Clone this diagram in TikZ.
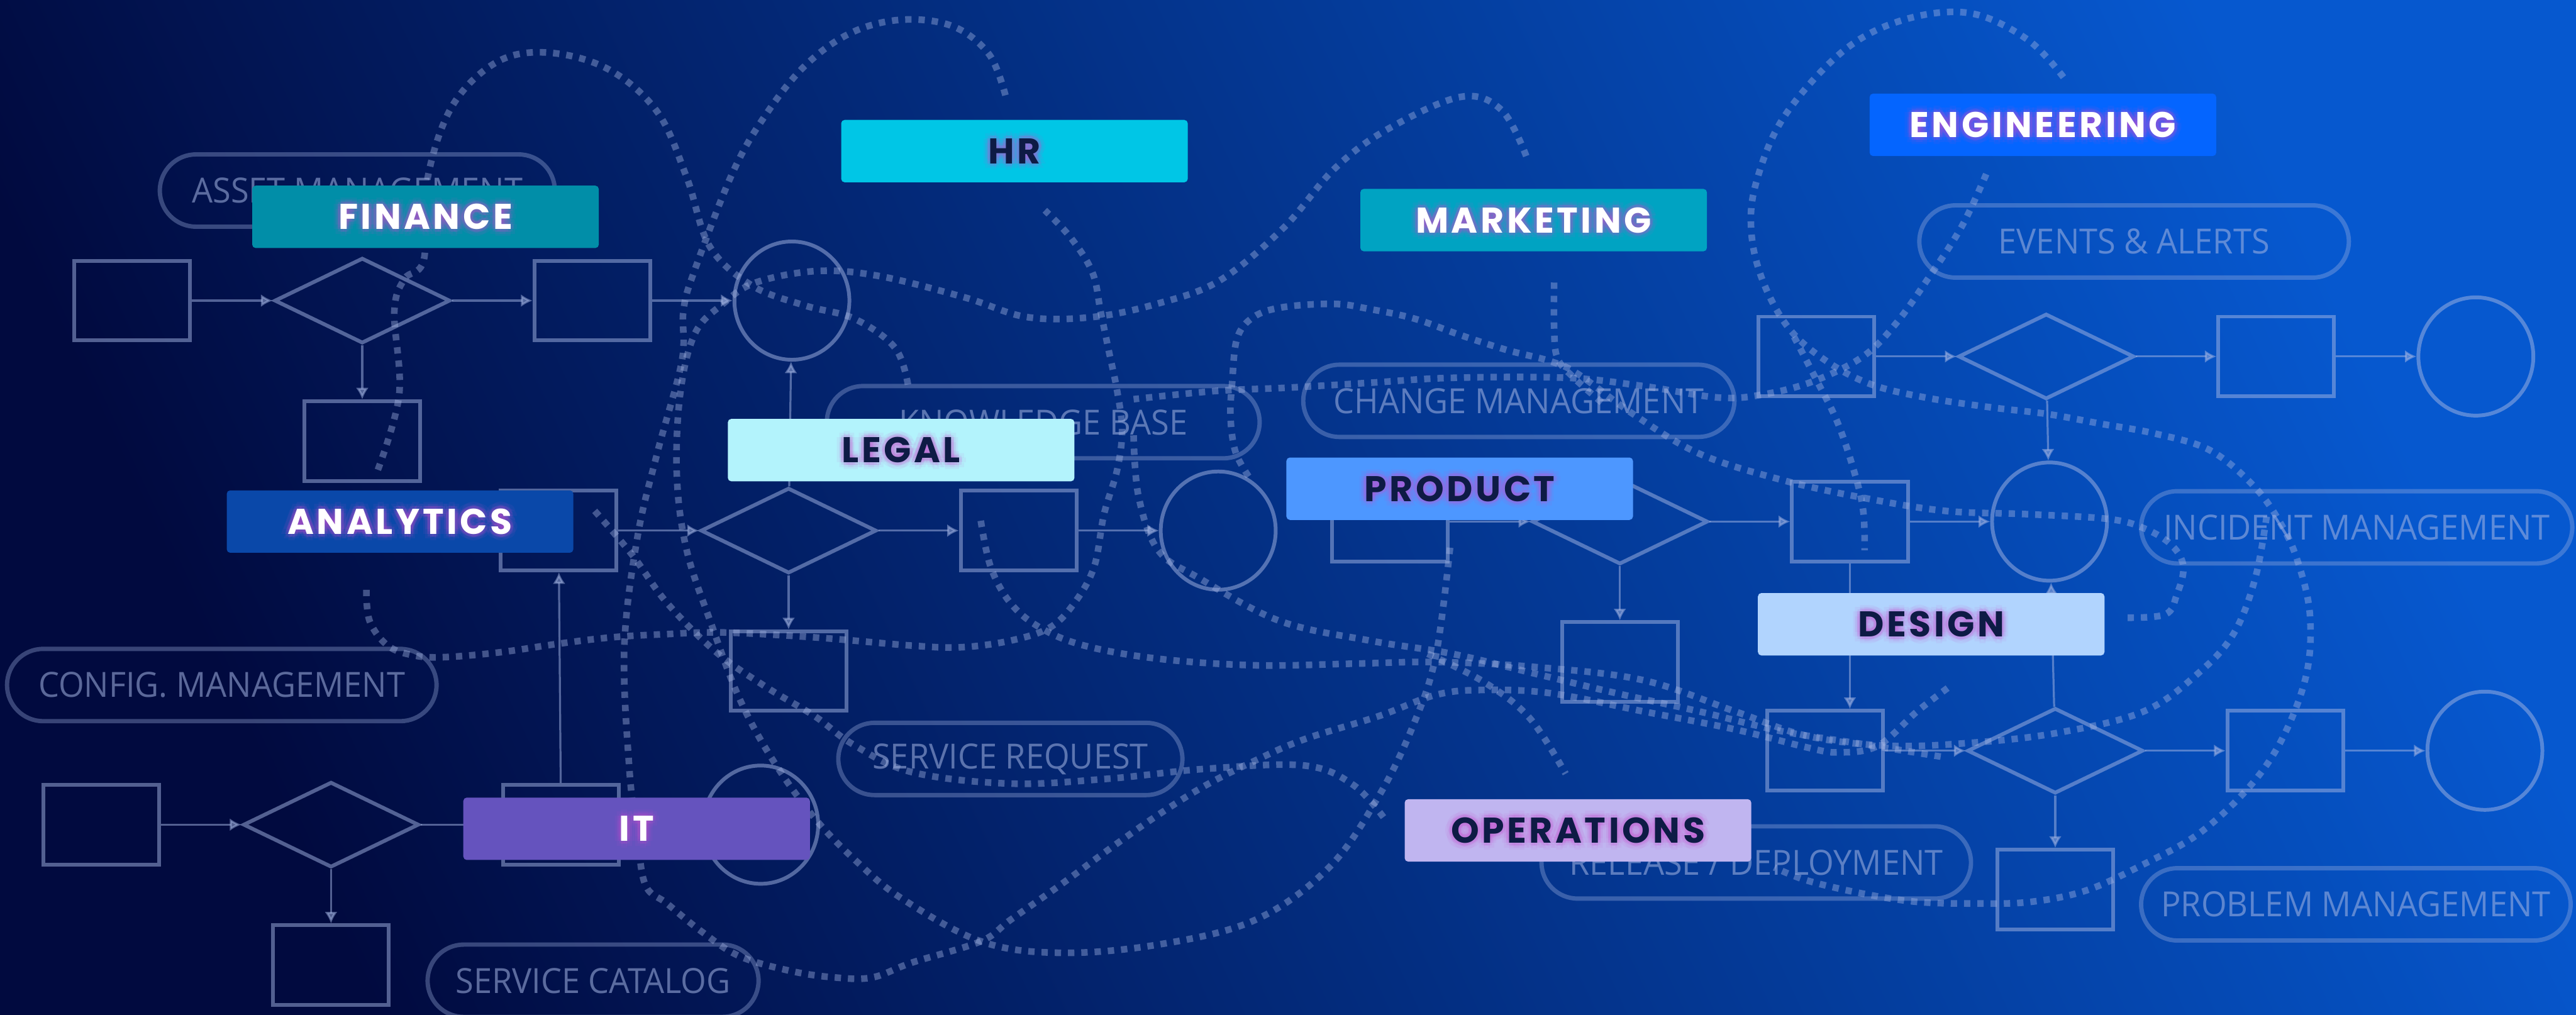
\documentclass[tikz,border=0pt]{standalone}
\usepackage{fontspec}
\usepackage{tikz}
\usetikzlibrary{arrows.meta,positioning,shapes.geometric}
\newfontfamily\deptfont[LetterSpace=8]{Poppins}
\newfontfamily\pillfont[FakeStretch=0.95]{Open Sans}
\definecolor{bgleft}{HTML}{010A3F}
\definecolor{bgright}{HTML}{0658CF}
\definecolor{linecol}{RGB}{165,182,228}
\definecolor{glowcol}{HTML}{C94FD0}
\definecolor{inkdark}{HTML}{0E1B45}
\definecolor{financefill}{HTML}{018EA8}
\definecolor{hrfill}{HTML}{00C6E6}
\definecolor{marketfill}{HTML}{00A3C2}
\definecolor{engfill}{HTML}{0465FF}
\definecolor{legalfill}{HTML}{B3F3FC}
\definecolor{analyticsfill}{HTML}{0A48A9}
\definecolor{productfill}{HTML}{4D97FF}
\definecolor{designfill}{HTML}{B1D4FE}
\definecolor{itfill}{HTML}{6553BE}
\definecolor{opsfill}{HTML}{C0B5F0}

\newcommand\deptlabel[5]{%
  \node[dept, fill=#3] (#1) at #2 {};
  \foreach \ang in {0,45,...,315}{
    \node[depttext, text=glowcol, opacity=0.12] at ([shift={(\ang:1.1pt)}]#1) {#5};
    \node[depttext, text=glowcol, opacity=0.07] at ([shift={(\ang:2.3pt)}]#1) {#5};
  }
  \node[depttext, text=#4] at (#1) {#5};
}

\begin{document}
\begin{tikzpicture}[
    x=0.02cm, y=-0.02cm,
    node distance=0.98cm,
    task/.style={rectangle, draw=linecol, draw opacity=0.5, line width=1.3pt,
    minimum width=1.41cm, minimum height=0.97cm, inner sep=0},
    gate/.style={diamond, draw=linecol, draw opacity=0.5, line width=1.3pt,
    minimum width=2.14cm, minimum height=1.04cm, inner sep=0},
    terminal/.style={ellipse, draw=linecol, draw opacity=0.5, line width=1.3pt,
    minimum width=1.40cm, minimum height=1.44cm, inner sep=0},
    flow/.style={-{Latex[length=4pt,width=4.4pt]}, draw=linecol, opacity=0.5, line width=0.7pt},
    trail/.style={draw=linecol, draw opacity=0.4, line width=2.3pt, dash pattern=on 2.2pt off 2.4pt},
    pill/.style={rectangle, rounded corners=0.44cm, draw=linecol, draw opacity=0.34, line width=1.5pt,
    minimum height=0.88cm, inner sep=0, text=linecol, text opacity=0.55,
    font=\pillfont\fontsize{12}{14}\selectfont},
    dept/.style={rectangle, rounded corners=1.2pt, minimum width=4.22cm, minimum height=0.76cm, inner sep=0},
    depttext/.style={inner sep=0, font=\deptfont\bfseries\fontsize{12.4}{14}\selectfont}
]
\useasboundingbox (0,0) rectangle (1568,617.6);
\clip (0,0) rectangle (1568,617.6);
\shade[left color=bgleft, right color=bgright, shading angle=115] (0,0) rectangle (1568,617.6);

\draw[trail] plot[smooth, tension=0.6] coordinates {(230,286) (243,240) (240,190) (246,170) (258,158) (260,110) (275,65) (302,38) (333,32) (370,42) (400,68) (418,108) (432,150) (458,174) (490,186) (520,194) (545,212) (553,236)};
\draw[trail] plot[smooth, tension=0.6] coordinates {(612,58) (602,33) (580,16) (549,12) (518,20) (490,40) (466,70) (446,105) (423,164) (416,189) (415,220) (400,276) (388,327) (380,394) (383,467) (388,510) (393,539) (406,550) (427,567) (450,582) (481,591) (508,595) (531,595) (555,586) (597,573) (615,560) (645,539) (675,517) (705,496) (734,478) (764,463) (794,450) (839,436) (874,423) (903,420) (944,422) (1000,433) (1056,444) (1100,455) (1119,458) (1143,454) (1167,433) (1188,417)};
\draw[trail] plot[smooth, tension=0.6] coordinates {(929,95) (914,67) (889,59) (844,79) (812,103) (781,139) (742,171) (704,185) (665,193) (625,193) (587,181) (535,168) (497,165) (460,172) (440,185) (423,203) (414,240) (412,290) (418,335) (433,380) (450,425) (470,462) (495,497) (521,524) (549,547) (597,573) (645,580) (705,575) (764,560) (809,528) (839,485) (860,442) (874,399) (883,330)};
\draw[trail] plot[smooth, tension=0.6] coordinates {(223,359) (225,378) (236,393) (252,399) (271,400) (305,397) (339,392) (372,388) (406,386) (440,385) (496,388) (555,393) (585,394) (615,390) (639,382) (654,367) (666,345) (672,313) (680,286) (683,262) (680,238) (675,214) (670,190) (665,166) (652,145) (636,128)};
\draw[trail] plot[smooth, tension=0.6] coordinates {(362,311) (385,338) (406,367) (436,397) (466,418) (496,436) (519,453) (555,470) (615,477) (675,474) (734,468) (794,466) (824,478) (844,500)};
\draw[trail] plot[smooth, tension=0.6] coordinates {(597,317) (603,345) (615,367) (633,382) (660,393) (705,401) (764,405) (824,404) (874,403) (934,406) (1000,414) (1056,433) (1100,448) (1150,454) (1202,452) (1253,446) (1305,433) (1339,409) (1360,385) (1373,351) (1380,312)};
\draw[trail] plot[smooth, tension=0.6] coordinates {(690,265) (693,302) (705,335) (730,352) (779,378) (834,390) (884,398) (934,410) (984,422) (1034,433) (1084,445) (1134,453) (1184,461)};
\draw[trail] plot[smooth, tension=0.6] coordinates {(1256,47) (1234,24) (1199,8) (1159,12) (1122,31) (1086,71) (1069,111) (1066,141) (1073,171) (1089,200) (1112,220) (1139,234) (1172,242) (1212,248) (1246,252) (1279,258) (1312,264) (1345,274) (1372,296) (1389,320) (1399,343) (1406,374) (1404,410) (1390,448) (1370,478) (1339,507) (1305,526) (1270,542) (1236,549) (1202,550) (1167,549) (1134,544) (1100,536) (1080,528)};
\draw[trail] plot[smooth, tension=0.6] coordinates {(1209,106) (1194,138) (1174,169) (1154,197) (1134,217) (1104,232) (1074,240) (1046,242) (1000,235) (954,230) (884,230) (834,233) (784,236) (740,238) (690,243)};
\draw[trail] plot[smooth, tension=0.6] coordinates {(760,290) (752,275) (749,254) (750,233) (753,206) (763,193) (781,187) (812,185) (833,188) (861,194) (889,204) (917,213) (944,220) (961,228) (994,252) (1034,276) (1084,292) (1134,303) (1184,311) (1234,313) (1284,316) (1306,322) (1322,332) (1329,345) (1325,362) (1318,374) (1294,376)};
\draw[trail] plot[smooth, tension=0.6] coordinates {(946,172) (946,200) (948,218) (958,230) (975,245)};
\draw[trail] plot[smooth, tension=0.6] coordinates {(1092,205) (1105,230) (1118,256) (1128,285) (1134,310) (1135,335)};
\draw[trail] plot[smooth, tension=0.6] coordinates {(869,398) (903,415) (931,437) (953,471)};

\node[pill, minimum width=4.81cm] (asset) at (217.5,116) {ASSET MANAGEMENT};
\node[pill, minimum width=5.27cm] (knowbase) at (635,257) {KNOWLEDGE BASE};
\node[pill, minimum width=5.25cm] (change) at (924.5,244) {CHANGE MANAGEMENT};
\node[pill, minimum width=5.23cm] (events) at (1299,147) {EVENTS \& ALERTS};
\node[pill, minimum width=5.25cm] (incident) at (1434.5,321) {INCIDENT MANAGEMENT};
\node[pill, minimum width=5.23cm] (config) at (135,417) {CONFIG. MANAGEMENT};
\node[pill, minimum width=4.19cm] (request) at (615,462) {SERVICE REQUEST};
\node[pill, minimum width=4.03cm] (catalog) at (361,597) {SERVICE CATALOG};
\node[pill, minimum width=5.23cm] (release) at (1069,525) {RELEASE / DEPLOYMENT};
\node[pill, minimum width=5.23cm] (problem) at (1434,550.5) {PROBLEM MANAGEMENT};

\node[task] (a1) at (80.5,183) {};
\node[gate, right=of a1] (ad) {};
\node[task, right=of ad] (a2) {};
\node[terminal, right=of a2] (ac) {};
\node[task, below=0.66cm of ad] (a3) {};
\draw[flow] (a1) -- (ad);
\draw[flow] (ad) -- (a2);
\draw[flow] (a2) -- (ac);
\draw[flow] (ad) -- (a3);

\node[task] (b1) at (340,323) {};
\node[gate, right=of b1] (bd) {};
\node[task, right=of bd] (b2) {};
\node[terminal, right=of b2] (bc) {};
\node[task, below=0.66cm of bd] (b3) {};
\draw[flow] (b1) -- (bd);
\draw[flow] (bd) -- (b2);
\draw[flow] (b2) -- (bc);
\draw[flow] (bd) -- (b3);
\draw[flow] (bd) -- (ac);

\node[task] (c1) at (61.5,502) {};
\node[gate, right=of c1] (cd) {};
\node[task, right=of cd] (c2) {};
\node[terminal, right=of c2] (cc) {};
\node[task, below=0.66cm of cd] (c3) {};
\draw[flow] (c1) -- (cd);
\draw[flow] (cd) -- (c2);
\draw[flow] (c2) -- (cc);
\draw[flow] (cd) -- (c3);
\draw[flow] (c2) -- (b1);

\node[task] (e1) at (1105.5,217) {};
\node[gate, right=of e1] (ed) {};
\node[task, right=of ed] (e2) {};
\node[terminal, right=of e2] (ec) {};
\draw[flow] (e1) -- (ed);
\draw[flow] (ed) -- (e2);
\draw[flow] (e2) -- (ec);

\node[task] (d1) at (846,317.5) {};
\node[gate, right=of d1] (dd) {};
\node[task, right=of dd] (d2) {};
\node[terminal, right=of d2] (dc) {};
\node[task, below=0.66cm of dd] (d3) {};
\draw[flow] (d1) -- (dd);
\draw[flow] (dd) -- (d2);
\draw[flow] (d2) -- (dc);
\draw[flow] (dd) -- (d3);
\draw[flow] (ed) -- (dc);

\node[task] (f1) at (1111,457) {};
\node[gate, right=of f1] (fd) {};
\node[task, right=of fd] (f2) {};
\node[terminal, right=of f2] (fc) {};
\node[task, below=0.64cm of fd] (f3) {};
\draw[flow] (f1) -- (fd);
\draw[flow] (fd) -- (f2);
\draw[flow] (f2) -- (fc);
\draw[flow] (fd) -- (f3);
\draw[flow] (fd) -- (dc);
\draw[flow] (d2.south) -- (d2.south |- f1.north);

\deptlabel{finance}{(259,132)}{financefill}{white}{FINANCE}
\deptlabel{hr}{(617.5,92)}{hrfill}{inkdark}{HR}
\deptlabel{marketing}{(933.5,134)}{marketfill}{white}{MARKETING}
\deptlabel{engineering}{(1243.5,76)}{engfill}{white}{ENGINEERING}
\deptlabel{legal}{(548.5,274)}{legalfill}{inkdark}{LEGAL}
\deptlabel{analytics}{(243.5,317.5)}{analyticsfill}{white}{ANALYTICS}
\deptlabel{product}{(888.5,297.5)}{productfill}{inkdark}{PRODUCT}
\deptlabel{design}{(1175.5,380)}{designfill}{inkdark}{DESIGN}
\deptlabel{it}{(387.5,504.5)}{itfill}{white}{IT}
\deptlabel{operations}{(960.5,505.5)}{opsfill}{inkdark}{OPERATIONS}
\end{tikzpicture}
\end{document}
